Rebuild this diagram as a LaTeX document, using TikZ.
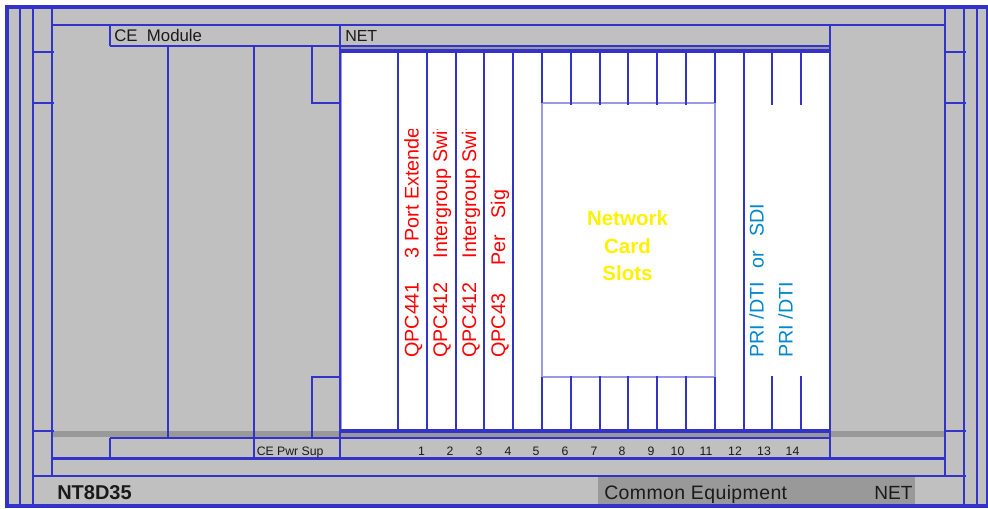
\documentclass[tikz,border=0pt]{standalone}
\usepackage{fontspec}
\setmainfont{Liberation Sans}
\definecolor{panel}{HTML}{C0C0C0}
\definecolor{band}{HTML}{999999}
\definecolor{frame}{HTML}{3333CC}
\definecolor{pale}{HTML}{9999E6}
\definecolor{ink}{HTML}{1A1A1A}
\definecolor{cardblue}{HTML}{0088CC}
\newcommand{\fsz}[1]{\fontsize{#1}{#1}\selectfont}
\tikzset{
  wire/.style={draw=frame,line width=2.4pt*0.75},
  heavy/.style={draw=frame,line width=4pt*0.75},
  txt/.style={inner sep=0pt,anchor=base west,text=ink},
  num/.style={inner sep=0pt,anchor=base,text=ink,font=\fsz{9.2}},
  redcard/.style={inner sep=0pt,anchor=base west,rotate=90,text=red,font=\fsz{14.8}},
  bluecard/.style={inner sep=0pt,anchor=base west,rotate=90,text=cardblue,font=\fsz{14.8}},
  slotlabel/.style={inner sep=0pt,anchor=base,text=yellow,font=\fsz{15.4}\bfseries},
}
\begin{document}
\begin{tikzpicture}[x=0.75pt,y=-0.75pt]
\useasboundingbox (0,0) rectangle (988,508);
\clip (0,0) rectangle (988,508);
\fill[white] (0,0) rectangle (988,508);
\fill[panel] (5,5) rectangle (988,506);
% grey bands and footer
\fill[band] (52,431) rectangle (945,437);
\fill[band] (598,477) rectangle (915,505);
% white card area
\fill[white] (340,52) rectangle (830,430);
\fill[band] (340,46) rectangle (830,50);
\draw[pale,line width=1.5pt*0.75] (341.5,52) -- (341.5,430);
% network slots panel
\draw[draw=pale,line width=2pt*0.75,fill=white] (542,103) rectangle (715,377);
% outer frame
\draw[heavy] (7,7) rectangle (988,506);
% left and right rails
\foreach \x in {20,33,964,977} \draw[wire] (\x,7) -- (\x,506);
\foreach \x in {52,945} \draw[wire] (\x,7) -- (\x,476);
\foreach \y in {52,103,431} {
  \draw[wire] (33,\y) -- (54,\y);
  \draw[wire] (945,\y) -- (966,\y);
}
% horizontals
\draw[wire] (52,25) -- (945,25);
\draw[wire] (52,458.5) -- (945,458.5);
\draw[wire] (33,476) -- (966,476);
\draw[wire] (110,46) -- (830,46);
\draw[wire] (110,438) -- (830,438);
\draw[wire] (110,25) -- (110,46);
\draw[wire] (110,438) -- (110,458.5);
\draw[wire] (340,25) -- (340,458.5);
\draw[wire] (830,25) -- (830,458.5);
\draw[wire] (254,438) -- (254,458.5);
% CE module dividers
\foreach \x in {168,254} \draw[wire] (\x,46) -- (\x,438);
\draw[wire] (312,46) -- (312,103) -- (340,103);
\draw[wire] (340,377) -- (312,377) -- (312,438);
% heavy bus bars
\draw[heavy] (340,51.2) -- (830,51.2);
\draw[heavy] (340,431) -- (830,431);
% full-height slot dividers
\foreach \x in {398,427,456,484,513,744} \draw[wire] (\x,52) -- (\x,430);
% short slot dividers
\foreach \x in {542,715} {
  \draw[wire] (\x,52) -- (\x,103);
  \draw[wire] (\x,377) -- (\x,430);
}
\foreach \x in {571,600,628,657,686,772,801} {
  \draw[wire] (\x,52) -- (\x,105);
  \draw[wire] (\x,376) -- (\x,430);
}
% header and footer texts
\node[txt,font=\fsz{12.6}] (ce) at (114,41.5) {CE\ \ Module};
\node[txt,font=\fsz{12}] (net) at (345,41.5) {NET};
\node[txt,font=\fsz{9.2}] (pwr) at (256.5,455) {CE Pwr Sup};
\node[txt,font=\fsz{15}\bfseries] (model) at (57,499) {NT8D35};
\node[txt,font=\fsz{14.6}\addfontfeature{LetterSpace=2}] (ceq) at (604,499) {Common Equipment};
\node[txt,font=\fsz{14.3}] (netb) at (874,499) {NET};
% slot numbers
\foreach \x/\n in {421.5/1,450/2,479/3,508/4,536/5,565/6,594/7,622/8,651/9,677.5/10,706/11,735/12,764/13,792.5/14}
  \node[num] (n\n) at (\x,455.5) {\n};
% card labels
\begin{scope}
\clip (395,129) rectangle (520,362);
\node[redcard] (c1) at (418.5,358) {QPC441\hspace{18pt}3 Port Extender};
\node[redcard] (c2) at (447,358) {QPC412\hspace{18pt}Intergroup Switch};
\node[redcard] (c3) at (476,358) {QPC412\hspace{18pt}Intergroup Switch};
\node[redcard] (c4) at (505,358) {QPC43\ \ \ \ \ Per\ \ \ Sig};
\end{scope}
\node[bluecard] (c12) at (763.5,358) {PRI /DTI\hspace{10pt}or\hspace{11pt}SDI};
\node[bluecard] (c13) at (792.5,358) {PRI /DTI};
\node[slotlabel] (s1) at (627.5,225.5) {Network};
\node[slotlabel] (s2) at (627.5,253) {Card};
\node[slotlabel] (s3) at (627.5,280) {Slots};
\end{tikzpicture}
\end{document}
